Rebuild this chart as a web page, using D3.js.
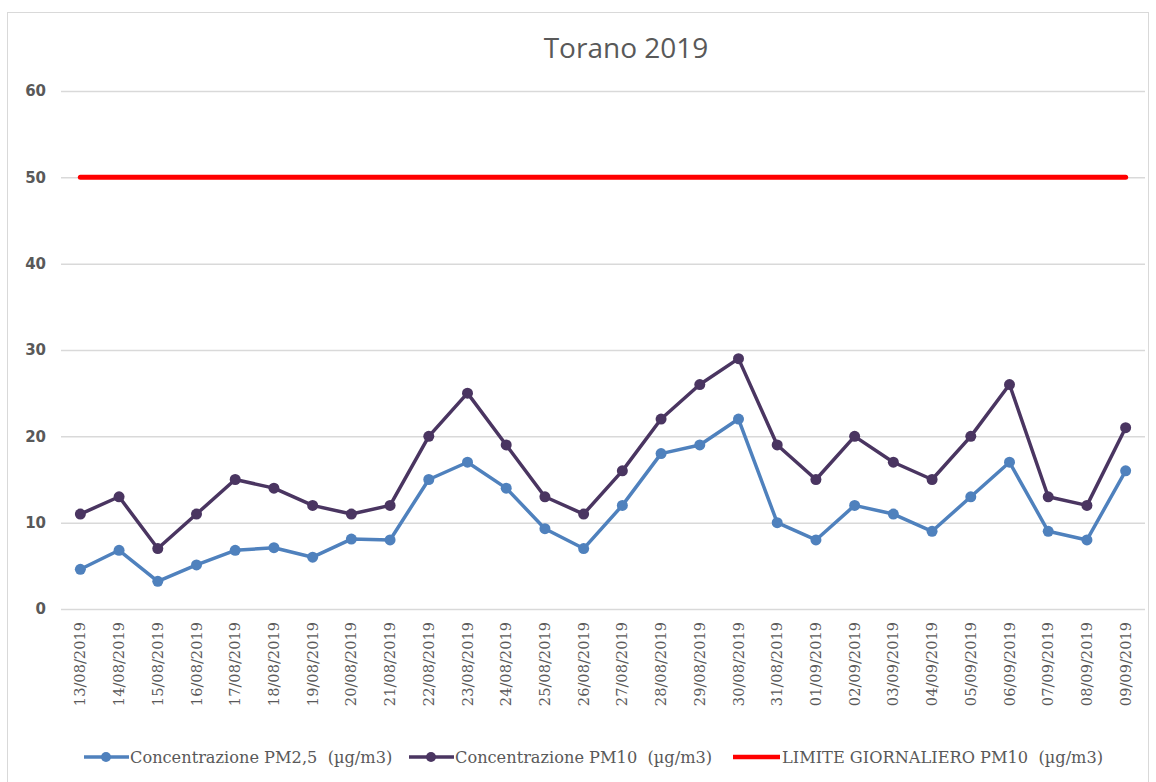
<!DOCTYPE html>
<html>
<head>
<meta charset="utf-8">
<script src="https://cdn.jsdelivr.net/npm/d3@7"></script>
<style>
  body { margin: 0; background: #fff; }
  svg { display: block; }
</style>
</head>
<body>
<svg id="chart" width="1156" height="782"></svg>
<script>
// data
const dates = ["13/08/2019","14/08/2019","15/08/2019","16/08/2019","17/08/2019","18/08/2019","19/08/2019",
  "20/08/2019","21/08/2019","22/08/2019","23/08/2019","24/08/2019","25/08/2019","26/08/2019",
  "27/08/2019","28/08/2019","29/08/2019","30/08/2019","31/08/2019","01/09/2019","02/09/2019",
  "03/09/2019","04/09/2019","05/09/2019","06/09/2019","07/09/2019","08/09/2019","09/09/2019"];
const pm25 = [4.6, 6.8, 3.2, 5.1, 6.8, 7.1, 6.0, 8.1, 8.0, 15, 17, 14, 9.3, 7, 12, 18, 19, 22, 10, 8, 12, 11, 9, 13, 17, 9, 8, 16];
const pm10 = [11, 13, 7, 11, 15, 14, 12, 11, 12, 20, 25, 19, 13, 11, 16, 22, 26, 29, 19, 15, 20, 17, 15, 20, 26, 13, 12, 21];
const limit = dates.map(() => 50);
const yTicks = [0, 10, 20, 30, 40, 50, 60];
const seriesNames = ["Concentrazione PM2,5  (\u00b5g/m3)", "Concentrazione PM10  (\u00b5g/m3)", "LIMITE GIORNALIERO PM10  (\u00b5g/m3)"];
const colors = ["#4f81bd", "#4a3561", "#ff0000"];

const svg = d3.select("#chart");

// chart border
svg.append("rect")
  .attr("x", 7.5).attr("y", 12.5)
  .attr("width", 1141).attr("height", 775)
  .attr("fill", "#fff").attr("stroke", "#d9d9d9");

const margin = {top: 91, left: 61, right: 1145, bottom: 609};

const x = d3.scaleBand().domain(dates).range([margin.left, margin.right]);
const y = d3.scaleLinear().domain([0, 60]).range([margin.bottom, margin.top]);
const cx = d => x(d) + x.bandwidth() / 2;

// title
svg.append("text")
  .attr("x", 626).attr("y", 58)
  .attr("text-anchor", "middle")
  .attr("font-family", "Open Sans, sans-serif")
  .attr("font-size", 28)
  .attr("fill", "#595959")
  .text("Torano 2019");

// gridlines + y labels
const yAxis = svg.append("g")
  .attr("transform", "translate(" + margin.left + ",0)")
  .call(d3.axisLeft(y).tickValues(yTicks).tickSize(-(margin.right - margin.left)).tickPadding(15));
yAxis.select(".domain").remove();
yAxis.selectAll(".tick line").attr("stroke", "#d9d9d9").attr("stroke-width", 1.5);
yAxis.selectAll(".tick text")
  .attr("font-family", "DejaVu Sans, sans-serif")
  .attr("font-weight", "bold")
  .attr("font-size", 15)
  .attr("fill", "#595959");

// x labels
const xAxis = svg.append("g")
  .attr("transform", "translate(0," + margin.bottom + ")")
  .call(d3.axisBottom(x).tickSize(0).tickPadding(0));
xAxis.select(".domain").remove();
xAxis.selectAll(".tick text")
  .attr("transform", "rotate(-90)")
  .attr("text-anchor", "end")
  .attr("x", -13).attr("y", 0).attr("dy", "0.35em")
  .attr("font-family", "DejaVu Serif, serif")
  .attr("font-size", 14.6)
  .attr("fill", "#595959");

// lines
const line = d3.line().x((d, i) => cx(dates[i])).y(d => y(d));

svg.append("path").datum(limit)
  .attr("d", line).attr("fill", "none")
  .attr("stroke", colors[2]).attr("stroke-width", 5).attr("stroke-linecap", "round");

[[pm25, colors[0]], [pm10, colors[1]]].forEach(([vals, c]) => {
  svg.append("path").datum(vals)
    .attr("d", line).attr("fill", "none")
    .attr("stroke", c).attr("stroke-width", 3.5).attr("stroke-linejoin", "round");
  svg.append("g").selectAll("circle")
    .data(vals).enter().append("circle")
    .attr("cx", (d, i) => cx(dates[i]))
    .attr("cy", d => y(d))
    .attr("r", 5.5)
    .attr("fill", c);
});

// legend
const legendY = 757;
const legendItems = [
  {x: 84, name: seriesNames[0], color: colors[0], marker: true},
  {x: 409, name: seriesNames[1], color: colors[1], marker: true},
  {x: 733, name: seriesNames[2], color: colors[2], marker: false}
];
const lg = svg.append("g").selectAll("g").data(legendItems).enter().append("g")
  .attr("transform", d => "translate(" + d.x + "," + legendY + ")");
lg.append("line")
  .attr("x1", 0).attr("x2", d => d.marker ? 45 : 47).attr("y1", 0).attr("y2", 0)
  .attr("stroke", d => d.color).attr("stroke-width", d => d.marker ? 3.5 : 4.5);
lg.filter(d => d.marker).append("circle")
  .attr("cx", 22).attr("cy", 0).attr("r", 5).attr("fill", d => d.color);
lg.append("text")
  .attr("x", d => d.marker ? 46 : 49).attr("y", 0).attr("dy", "0.35em")
  .style("white-space", "pre")
  .attr("font-family", "DejaVu Serif, serif")
  .attr("font-size", 16.2)
  .attr("fill", "#595959")
  .text(d => d.name);
</script>
</body>
</html>
